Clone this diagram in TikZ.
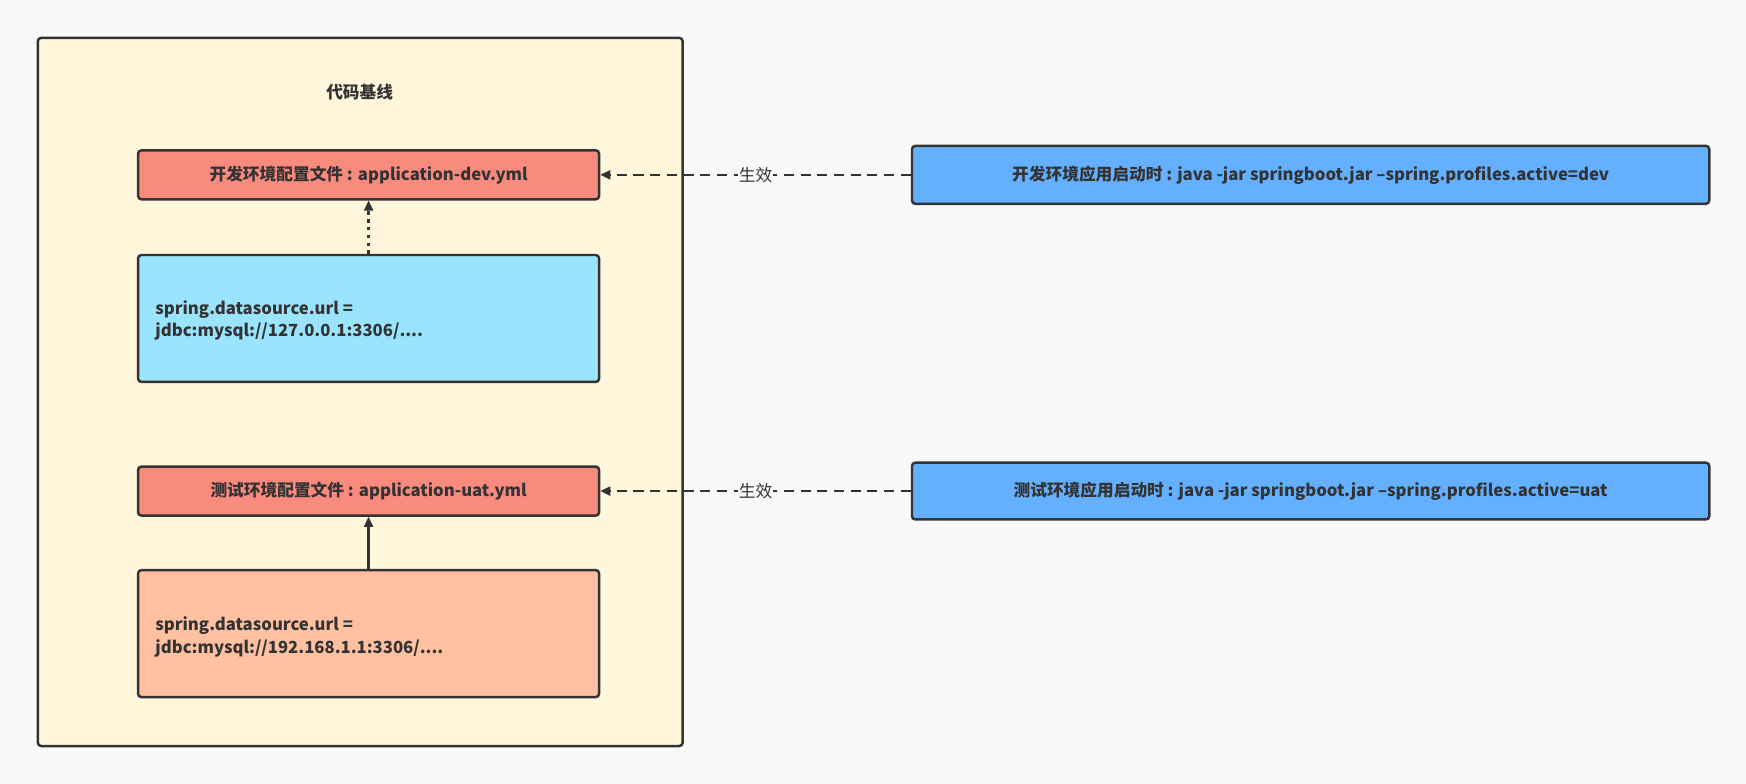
\documentclass[tikz,border=0pt]{standalone}
\usepackage{fontspec}
\setmainfont{Noto Sans CJK SC}
\usetikzlibrary{arrows.meta}
\definecolor{bg}{HTML}{F9F9F9}
\definecolor{cont}{HTML}{FFF6DC}
\definecolor{redb}{HTML}{F88A7E}
\definecolor{lblue}{HTML}{9BE4FE}
\definecolor{peach}{HTML}{FFC1A1}
\definecolor{blueb}{HTML}{64B0FE}
\definecolor{ink}{HTML}{333333}
\begin{document}
\begin{tikzpicture}[x=1pt,y=-1pt,
 box/.style={draw=ink,line width=2.2pt,rounded corners=3pt,inner sep=0pt},
 txt/.style={font=\fontsize{15}{20}\selectfont\bfseries,text=ink},
 arr/.style={draw=ink,line width=2.2pt,-{Triangle[length=9pt,width=8pt]}}]
\fill[bg] (0,0) rectangle (1568,704);
\useasboundingbox (0,0) rectangle (1568,704);
\draw[box,fill=cont] (34,34) rectangle (613,670);
\node[txt] (title) at (323,83) {代码基线};
\node[box,fill=redb,minimum width=414pt,minimum height=44pt,txt] (dev) at (331,157) {开发环境配置文件 : application-dev.yml};
\node[box,fill=lblue,minimum width=414pt,minimum height=114pt] (devurl) at (331,286) {};
\node[txt,align=left,anchor=west] (devt) at (136,288) {spring.datasource.url =\\jdbc:mysql://127.0.0.1:3306/....};
\node[box,fill=redb,minimum width=414pt,minimum height=44pt,txt] (uat) at (331,441) {测试环境配置文件 : application-uat.yml};
\node[box,fill=peach,minimum width=414pt,minimum height=114pt] (uaturl) at (331,569) {};
\node[txt,align=left,anchor=west] (uatt) at (136,572) {spring.datasource.url =\\jdbc:mysql://192.168.1.1:3306/....};
\node[box,fill=blueb,minimum width=716pt,minimum height=52pt,txt] (devrun) at (1177,157) {开发环境应用启动时 : java -jar springboot.jar --spring.profiles.active=dev};
\node[box,fill=blueb,minimum width=716pt,minimum height=51pt,txt] (uatrun) at (1177,441) {测试环境应用启动时 : java -jar springboot.jar --spring.profiles.active=uat};
\draw[arr,dash pattern=on 9pt off 6pt] (devrun.west) -- node[fill=bg,inner sep=1pt,font=\fontsize{15}{18}\selectfont,text=ink]{生效} (dev.east);
\draw[arr,dash pattern=on 9pt off 6pt] (uatrun.west) -- node[fill=bg,inner sep=1pt,font=\fontsize{15}{18}\selectfont,text=ink]{生效} (uat.east);
\draw[arr,dash pattern=on 3pt off 4pt] (devurl.north) -- (dev.south);
\draw[arr] (uaturl.north) -- (uat.south);
\end{tikzpicture}
\end{document}
